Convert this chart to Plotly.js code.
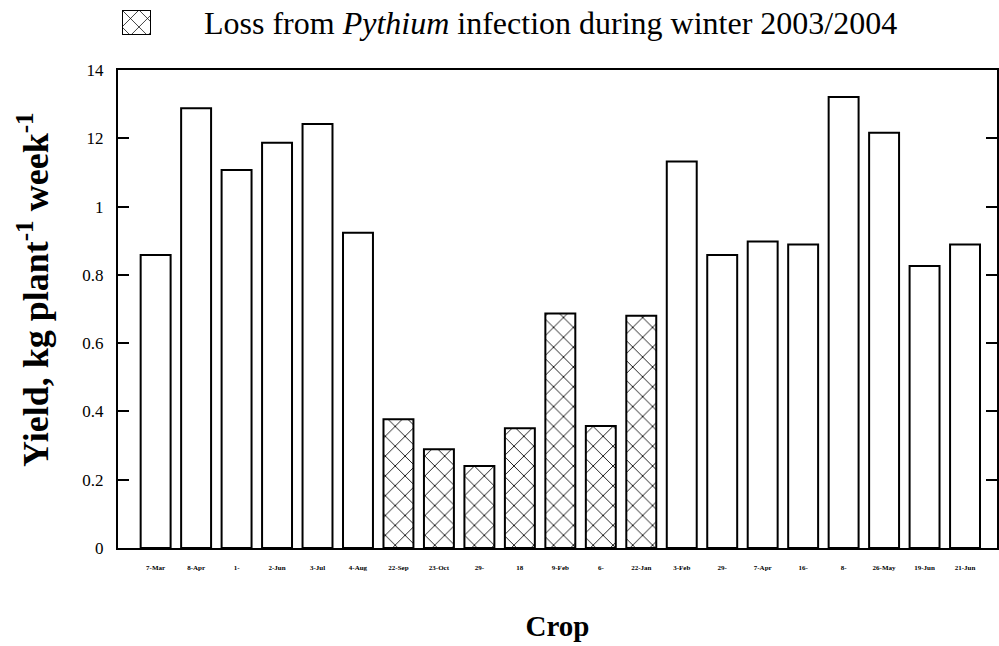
<!DOCTYPE html>
<html>
<head>
<meta charset="utf-8">
<script src="https://cdn.plot.ly/plotly-3.0.1.min.js"></script>
<style>
  html, body { margin: 0; padding: 0; background: #fff; }
  #chart { width: 999px; height: 646px; }
</style>
</head>
<body>
<div id="chart"></div>
<script>
// Planting date of each crop (x tick labels)
const crops = ['7-Mar', '8-Apr', '1-', '2-Jun', '3-Jul', '4-Aug', '22-Sep', '23-Oct', '29-', '18',
               '9-Feb', '6-', '22-Jan', '3-Feb', '29-', '7-Apr', '16-', '8-', '26-May', '19-Jun', '21-Jun'];
// Yield per crop, kg plant^-1 week^-1
const yields = [0.858, 1.288, 1.107, 1.187, 1.242, 0.923, 0.377, 0.289, 0.240, 0.351,
                0.687, 0.357, 0.680, 1.132, 0.858, 0.898, 0.889, 1.321, 1.216, 0.826, 0.889];
// 1 = crop lost to Pythium infection during winter 2003/2004
const pythiumLoss = [0, 0, 0, 0, 0, 0, 1, 1, 1, 1, 1, 1, 1, 0, 0, 0, 0, 0, 0, 0, 0];
// Y tick values and their printed labels
const yTickVals = [0, 0.2, 0.4, 0.6, 0.8, 1.0, 1.2, 1.4];
const yTickText = ['0', '0.2', '0.4', '0.6', '0.8', '1', '12', '14'];
// Key swatch (one bar in its own small axis)
const keySwatch = [1];
const keyText = 'Loss from <i>Pythium</i> infection during winter 2003/2004';
const yTitle = 'Yield, kg plant<sup>-1</sup> week<sup>-1</sup>';

const positions = crops.map((_, i) => i);
const hatch = 'x';
const serif = 'Liberation Serif, Times New Roman, serif';

const W = 999, H = 646;
const M = { l: 118, r: 2, t: 8, b: 98 };
const plotH = H - M.t - M.b;          // 540
const plotTopPx = 70;                 // top of the main frame
const mainTop = (H - M.b - plotTopPx) / plotH;

const pxX = px => (px - M.l) / (W - M.l - M.r);
const pxY = py => (H - M.b - py) / plotH;

const bars = {
  type: 'bar',
  x: positions,
  y: yields,
  width: 0.74,
  marker: {
    color: '#fff',
    line: { color: '#000', width: 2 },
    pattern: {
      shape: pythiumLoss.map(f => f ? hatch : ''),
      fgcolor: '#000',
      bgcolor: '#fff',
      size: 14,
      solidity: 0.12,
      fillmode: 'replace'
    }
  },
  hoverinfo: 'x+y',
  showlegend: false
};

const swatch = {
  type: 'bar',
  x: [0],
  y: keySwatch,
  width: 1,
  xaxis: 'x2',
  yaxis: 'y2',
  marker: {
    color: '#fff',
    line: { color: '#000', width: 2 },
    pattern: { shape: hatch, fgcolor: '#000', bgcolor: '#fff', size: 12, solidity: 0.12, fillmode: 'replace' }
  },
  hoverinfo: 'skip',
  showlegend: false
};

const layout = {
  width: W, height: H,
  margin: M,
  paper_bgcolor: '#fff',
  plot_bgcolor: '#fff',
  showlegend: false,
  bargap: 0.26,
  font: { family: serif, color: '#000' },
  xaxis: {
    domain: [0, 1],
    range: [-0.93, 20.79],
    tickmode: 'array',
    tickvals: positions,
    ticktext: crops,
    tickangle: 0,
    ticks: '',
    tickfont: { family: serif, size: 7, weight: 'bold', color: '#000' },
    ticklabelstandoff: 12,
    showline: true, linecolor: '#000', linewidth: 2, mirror: true,
    showgrid: false, zeroline: false,
    title: { text: 'Crop', font: { family: serif, size: 29, weight: 'bold', color: '#000' }, standoff: 44 }
  },
  yaxis: {
    domain: [0, mainTop],
    range: [0, 1.4],
    tickmode: 'array',
    tickvals: yTickVals,
    ticktext: yTickText,
    ticks: 'inside', ticklen: 11, tickwidth: 2, tickcolor: '#000',
    tickfont: { family: serif, size: 17, color: '#000' },
    ticklabelstandoff: 9,
    showline: true, linecolor: '#000', linewidth: 2, mirror: 'ticks',
    showgrid: false, zeroline: false
  },
  xaxis2: {
    domain: [pxX(122), pxX(151)],
    range: [-0.5, 0.5],
    anchor: 'y2', visible: false, fixedrange: true
  },
  yaxis2: {
    domain: [pxY(35), pxY(10)],
    range: [0, 1],
    anchor: 'x2', visible: false, fixedrange: true
  },
  annotations: [
    {
      xref: 'paper', yref: 'paper',
      x: pxX(202), y: pxY(23),
      xanchor: 'left', yanchor: 'middle',
      text: keyText,
      showarrow: false,
      font: { family: serif, size: 32, color: '#000' }
    },
    {
      xref: 'paper', yref: 'paper',
      x: pxX(34), y: pxY(290),
      xanchor: 'center', yanchor: 'middle',
      textangle: -90,
      text: yTitle,
      showarrow: false,
      font: { family: serif, size: 36, weight: 'bold', color: '#000' }
    }
  ]
};

Plotly.newPlot('chart', [bars, swatch], layout, { displayModeBar: false, staticPlot: true });
</script>
</body>
</html>
